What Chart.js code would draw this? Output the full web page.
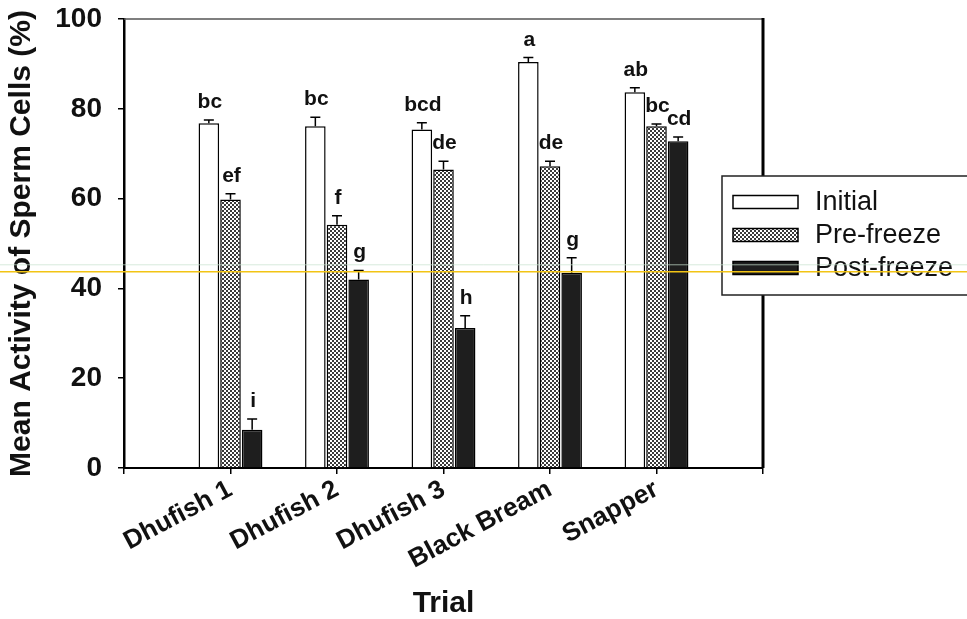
<!DOCTYPE html>
<html>
<head>
<meta charset="utf-8">
<script src="https://cdn.jsdelivr.net/npm/chart.js@4.4.1/dist/chart.umd.min.js"></script>
<style>
  html, body { margin: 0; padding: 0; background: #fff; }
  #wrap { width: 967px; height: 619px; position: relative; }
</style>
</head>
<body>
<div id="wrap"><canvas id="chart"></canvas></div>
<script>
// values
const trials = ['Dhufish 1', 'Dhufish 2', 'Dhufish 3', 'Black Bream', 'Snapper'];
const initial = [76.8, 76.1, 75.4, 90.4, 83.7];
const initialErr = [0.7, 2.0, 1.5, 1.0, 1.0];
const preFreeze = [59.8, 54.2, 66.5, 67.2, 76.1];
const preFreezeErr = [1.3, 2.0, 1.8, 1.1, 0.5];
const postFreeze = [8.5, 42.0, 31.2, 43.5, 72.8];
const postFreezeErr = [2.4, 2.0, 2.7, 3.3, 0.9];
const initialLetters = ['bc', 'bc', 'bcd', 'a', 'ab'];
const preFreezeLetters = ['ef', 'f', 'de', 'de', 'bc'];
const postFreezeLetters = ['i', 'g', 'h', 'g', 'cd'];
const yMin = 0, yMax = 100, yStep = 20;
const scanLineValue = 43.7; // yellow scanner streak in the original

const FONT = "'Liberation Sans', Arial, sans-serif";

// empty slot either side so the groups sit where the original put them
const pad = arr => [null, ...arr, null];
const labels = ['', ...trials, ''];

// stipple fill for pre-freeze bars
function makeStipple() {
  const c = document.createElement('canvas');
  c.width = 4; c.height = 4;
  const g = c.getContext('2d');
  g.fillStyle = '#fff';
  g.fillRect(0, 0, 4, 4);
  g.fillStyle = '#3a3a3a';
  g.fillRect(0, 0, 2, 2);
  g.fillRect(2, 2, 2, 2);
  return g.createPattern(c, 'repeat');
}
const stipple = makeStipple();

const errorBars = {
  id: 'errorBars',
  afterDatasetsDraw(chart) {
    const ctx = chart.ctx;
    const y = chart.scales.y;
    const area = chart.chartArea;
    ctx.save();
    // box top and right side
    ctx.strokeStyle = '#555';
    ctx.lineWidth = 1.5;
    ctx.beginPath();
    ctx.moveTo(area.left, area.top);
    ctx.lineTo(area.right, area.top);
    ctx.stroke();
    ctx.strokeStyle = '#000';
    ctx.lineWidth = 3;
    ctx.beginPath();
    ctx.moveTo(area.right, area.top - 1);
    ctx.lineTo(area.right, area.bottom);
    ctx.stroke();

    chart.data.datasets.forEach((ds, i) => {
      const meta = chart.getDatasetMeta(i);
      meta.data.forEach((bar, j) => {
        const v = ds.data[j];
        if (v == null) return;
        const top = y.getPixelForValue(v + ds.errors[j]);
        const base = y.getPixelForValue(v);
        ctx.strokeStyle = '#000';
        ctx.lineWidth = 1.5;
        ctx.beginPath();
        ctx.moveTo(bar.x, base);
        ctx.lineTo(bar.x, top);
        ctx.moveTo(bar.x - 5, top);
        ctx.lineTo(bar.x + 5, top);
        ctx.stroke();
        ctx.fillStyle = '#111';
        ctx.font = 'bold 21px ' + FONT;
        ctx.textAlign = 'center';
        ctx.textBaseline = 'alphabetic';
        ctx.fillText(ds.letters[j], bar.x + 1, top - 12);
      });
    });
    ctx.restore();
  },
  afterDraw(chart) {
    const ctx = chart.ctx;
    const area = chart.chartArea;
    ctx.save();
    // legend box overlapping the right border
    const bx = area.right - 41, by = 176, bw = 260, bh = 119;
    ctx.fillStyle = '#fff';
    ctx.fillRect(bx, by, bw, bh);
    ctx.strokeStyle = '#222';
    ctx.lineWidth = 1.5;
    ctx.strokeRect(bx, by, bw, bh);
    chart.data.datasets.forEach((ds, i) => {
      const cy = by + 26 + i * 33;
      ctx.fillStyle = ds.backgroundColor;
      ctx.fillRect(bx + 11, cy - 6.5, 65, 13);
      ctx.strokeStyle = '#000';
      ctx.lineWidth = 1.5;
      ctx.strokeRect(bx + 11, cy - 6.5, 65, 13);
      ctx.fillStyle = '#111';
      ctx.font = '27px ' + FONT;
      ctx.textAlign = 'left';
      ctx.textBaseline = 'middle';
      ctx.fillText(ds.label, bx + 93, cy + 1);
    });
    // scanner streaks
    const sy = chart.scales.y.getPixelForValue(scanLineValue);
    ctx.strokeStyle = 'rgba(200,225,205,0.7)';
    ctx.lineWidth = 1;
    ctx.beginPath();
    ctx.moveTo(0, sy - 7);
    ctx.lineTo(chart.width, sy - 7);
    ctx.stroke();
    ctx.strokeStyle = '#f2c414';
    ctx.lineWidth = 1.5;
    ctx.beginPath();
    ctx.moveTo(0, sy);
    ctx.lineTo(chart.width, sy);
    ctx.stroke();
    ctx.restore();
  }
};

const ctx = document.getElementById('chart');

const chart = new Chart(ctx, {
  type: 'bar',
  data: {
    labels: labels,
    datasets: [{
      label: 'Initial',
      data: pad(initial),
      errors: pad(initialErr),
      letters: pad(initialLetters),
      backgroundColor: '#ffffff',
      borderColor: '#000',
      borderWidth: 1.5
    }, {
      label: 'Pre-freeze',
      data: pad(preFreeze),
      errors: pad(preFreezeErr),
      letters: pad(preFreezeLetters),
      backgroundColor: stipple,
      borderColor: '#000',
      borderWidth: 1.5
    }, {
      label: 'Post-freeze',
      data: pad(postFreeze),
      errors: pad(postFreezeErr),
      letters: pad(postFreezeLetters),
      backgroundColor: '#1e1e1e',
      borderColor: '#000',
      borderWidth: 1.5
    }]
  },
  options: {
    responsive: true,
    maintainAspectRatio: false,
    animation: false,
    categoryPercentage: 0.61,
    barPercentage: 0.95,
    layout: {
      padding: { top: 19, right: 204, left: 0, bottom: 0 }
    },
    plugins: {
      legend: { display: false },
      tooltip: { enabled: false }
    },
    scales: {
      x: {
        offset: false,
        grid: { offset: false, drawOnChartArea: false, drawTicks: true, tickLength: 6, color: '#000', lineWidth: 1.5 },
        border: { display: true, color: '#000', width: 2 },
        ticks: {
          color: '#111',
          font: { family: FONT, size: 26, weight: 'bold' },
          maxRotation: 28,
          minRotation: 28,
          autoSkip: false,
          padding: 0
        },
        title: {
          display: true,
          text: 'Trial',
          color: '#111',
          font: { family: FONT, size: 30, weight: 'bold', lineHeight: 1 },
          padding: { top: 0, bottom: 0 }
        },
        afterFit(scale) {
          scale.height = 151;
          scale.paddingLeft = 0;
          scale.paddingRight = 0;
        }
      },
      y: {
        min: yMin,
        max: yMax,
        grid: { drawOnChartArea: false, drawTicks: true, tickLength: 6, color: '#000', lineWidth: 1.5 },
        border: { display: true, color: '#000', width: 2.5 },
        ticks: {
          stepSize: yStep,
          color: '#111',
          font: { family: FONT, size: 28, weight: 'bold' },
          padding: 16
        },
        title: {
          display: true,
          text: 'Mean Activity of Sperm Cells (%)',
          color: '#111',
          font: { family: FONT, size: 30, weight: 'bold', lineHeight: 1 },
          padding: { top: 7, bottom: 0 }
        },
        afterFit(scale) {
          scale.width = 124;
          scale.paddingTop = 0;
          scale.paddingBottom = 0;
        }
      }
    }
  },
  plugins: [errorBars]
});
</script>
</body>
</html>
